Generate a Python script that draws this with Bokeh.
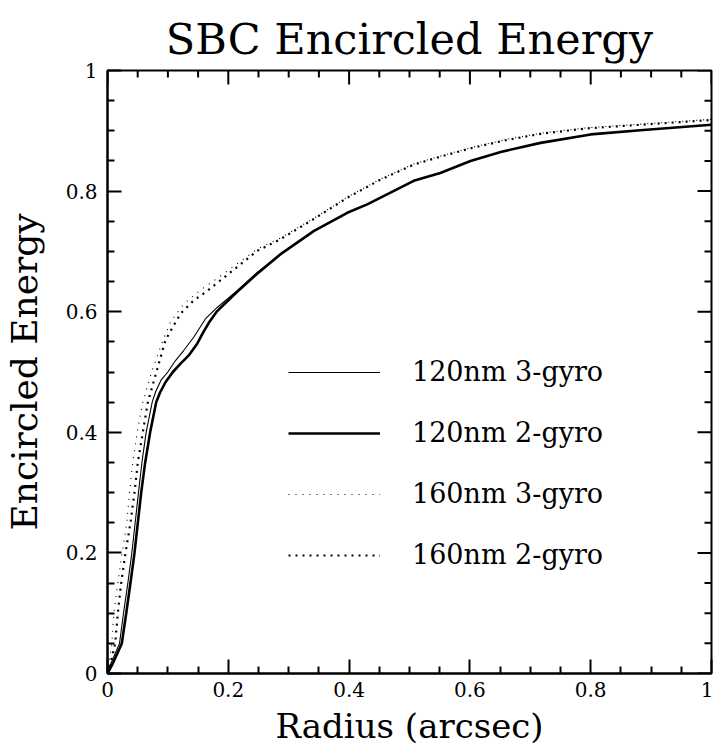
import math
from bokeh.plotting import figure
from bokeh.models import FixedTicker, LinearAxis, Legend, LegendItem, Range1d
from bokeh.embed import file_html
from bokeh.resources import INLINE

# ---- data ----
x_120_3g = [0, 0.005, 0.0199, 0.0265, 0.0337, 0.0403, 0.0458, 0.0513, 0.057, 0.064, 0.074,
            0.080, 0.089, 0.0999, 0.1126, 0.1264, 0.143, 0.162, 0.1816, 0.2147, 0.2478, 0.286, 0.342,
            0.397, 0.43, 0.507, 0.551, 0.601, 0.651, 0.717, 0.80, 0.882, 1.0]
y_120_3g = [0, 0.015, 0.05, 0.10, 0.15, 0.20, 0.25, 0.30, 0.35, 0.40, 0.45,
            0.468, 0.487, 0.50, 0.519, 0.536, 0.558, 0.588, 0.607, 0.635, 0.665, 0.695, 0.734,
            0.764, 0.778, 0.817, 0.830, 0.850, 0.865, 0.880, 0.894, 0.901, 0.910]

x_120_2g = [0, 0.008, 0.0237, 0.031, 0.038, 0.0447, 0.0502, 0.0558, 0.0624, 0.0706, 0.0806,
            0.087, 0.096, 0.1082, 0.121, 0.135, 0.1485, 0.158, 0.168, 0.1816, 0.2147, 0.2478, 0.286, 0.342,
            0.397, 0.43, 0.507, 0.551, 0.601, 0.651, 0.717, 0.80, 0.882, 1.0]
y_120_2g = [0, 0.015, 0.05, 0.10, 0.15, 0.20, 0.25, 0.30, 0.35, 0.40, 0.45,
            0.466, 0.483, 0.50, 0.514, 0.528, 0.547, 0.565, 0.582, 0.601, 0.633, 0.663, 0.695, 0.734,
            0.764, 0.778, 0.817, 0.830, 0.850, 0.865, 0.880, 0.894, 0.901, 0.910]

x_160_3g = [0, 0.003, 0.0072, 0.0105, 0.0171, 0.0243, 0.032, 0.0364, 0.0419, 0.0491, 0.0585,
            0.073, 0.0905, 0.1043, 0.1264, 0.154, 0.184, 0.248, 0.286, 0.342, 0.397, 0.452,
            0.507, 0.551, 0.601, 0.662, 0.717, 0.794, 0.882, 1.0]
y_160_3g = [0, 0.02, 0.05, 0.10, 0.15, 0.20, 0.25, 0.30, 0.35, 0.40, 0.45,
            0.50, 0.549, 0.583, 0.613, 0.636, 0.657, 0.704, 0.722, 0.755, 0.790, 0.820,
            0.845, 0.858, 0.872, 0.886, 0.896, 0.905, 0.911, 0.919]

x_160_2g = [0, 0.006, 0.0127, 0.0171, 0.0226, 0.0298, 0.038, 0.0447, 0.0502, 0.0585, 0.0668,
            0.081, 0.096, 0.121, 0.143, 0.162, 0.2009, 0.248, 0.286, 0.342, 0.397, 0.452,
            0.507, 0.551, 0.601, 0.662, 0.717, 0.794, 0.882, 1.0]
y_160_2g = [0, 0.02, 0.05, 0.10, 0.15, 0.20, 0.25, 0.30, 0.35, 0.40, 0.45,
            0.50, 0.553, 0.597, 0.619, 0.632, 0.663, 0.701, 0.720, 0.754, 0.789, 0.819,
            0.844, 0.857, 0.871, 0.885, 0.895, 0.904, 0.910, 0.918]

series_labels = ["120nm 3-gyro", "120nm 2-gyro", "160nm 3-gyro", "160nm 2-gyro"]
tick_values = [0, 0.2, 0.4, 0.6, 0.8, 1.0]
tick_labels = ["0", "0.2", "0.4", "0.6", "0.8", "1"]
minor_values = [0.05, 0.1, 0.15, 0.25, 0.3, 0.35, 0.45, 0.5, 0.55, 0.65, 0.7, 0.75, 0.85, 0.9, 0.95]

title_text = "SBC Encircled Energy"
x_label = "Radius (arcsec)"
y_label = "Encircled Energy"

FONT = "DejaVu Serif"
MAJOR_LEN = 14
MINOR_LEN = 7

p = figure(width=713, height=751, x_range=Range1d(0, 1), y_range=Range1d(0, 1),
           output_backend="svg", toolbar_location=None,
           min_border_left=107, min_border_right=2, min_border_top=70, min_border_bottom=78,
           x_axis_location=None, y_axis_location=None)
p.grid.visible = False
p.outline_line_color = "black"
p.outline_line_width = 2
p.background_fill_color = "white"
p.border_fill_color = "white"

p.title.text = title_text
p.title.align = "center"
p.title.text_font = FONT
p.title.text_font_size = "43px"
p.title.text_font_style = "normal"
p.title.text_color = "black"
p.title.offset = 6
p.title.standoff = 14

overrides = {v: l for v, l in zip(tick_values, tick_labels)}


def style_axis(ax):
    ax.ticker = FixedTicker(ticks=tick_values, minor_ticks=minor_values)
    ax.major_tick_in = MAJOR_LEN
    ax.major_tick_out = 0
    ax.minor_tick_in = MINOR_LEN
    ax.minor_tick_out = 0
    ax.axis_line_width = 2
    ax.major_tick_line_width = 2
    ax.minor_tick_line_width = 2
    ax.axis_line_color = "black"
    ax.major_tick_line_color = "black"
    ax.minor_tick_line_color = "black"
    ax.major_label_overrides = overrides
    ax.major_label_text_font = FONT
    ax.major_label_text_font_size = "20px"
    ax.major_label_text_color = "black"
    ax.axis_label_text_font = FONT
    ax.axis_label_text_font_style = "normal"
    ax.axis_label_text_color = "black"


xb = LinearAxis(axis_label=x_label)
style_axis(xb)
xb.axis_label_text_font_size = "34px"
xb.major_label_standoff = 8
xb.axis_label_standoff = 6
p.add_layout(xb, "below")

yl = LinearAxis(axis_label=y_label)
style_axis(yl)
yl.axis_label_text_font_size = "36px"
yl.major_label_standoff = 10
yl.axis_label_standoff = 18
p.add_layout(yl, "left")

# mirrored ticks on the top and right frame edges (pointing inward)
p.ray(x=tick_values, y=[1] * len(tick_values), length=MAJOR_LEN, length_units="screen",
      angle=-math.pi / 2, line_color="black", line_width=2)
p.ray(x=minor_values, y=[1] * len(minor_values), length=MINOR_LEN, length_units="screen",
      angle=-math.pi / 2, line_color="black", line_width=2)
p.ray(x=[1] * len(tick_values), y=tick_values, length=MAJOR_LEN, length_units="screen",
      angle=math.pi, line_color="black", line_width=2)
p.ray(x=[1] * len(minor_values), y=minor_values, length=MINOR_LEN, length_units="screen",
      angle=math.pi, line_color="black", line_width=2)

r1 = p.line(x_120_3g, y_120_3g, line_color="black", line_width=1.1)
r2 = p.line(x_120_2g, y_120_2g, line_color="black", line_width=2.6)
r3 = p.line(x_160_3g, y_160_3g, line_color="black", line_width=1.1, line_dash="1 6")
r4 = p.line(x_160_2g, y_160_2g, line_color="black", line_width=2.2, line_dash="2 5")

legend = Legend(items=[LegendItem(label=series_labels[0], renderers=[r1]),
                       LegendItem(label=series_labels[1], renderers=[r2]),
                       LegendItem(label=series_labels[2], renderers=[r3]),
                       LegendItem(label=series_labels[3], renderers=[r4])],
                location=(181, 103))
legend.glyph_width = 92
legend.glyph_height = 30
legend.label_height = 30
legend.spacing = 30
legend.label_standoff = 32
legend.padding = 0
legend.margin = 0
legend.border_line_color = None
legend.background_fill_alpha = 0
legend.label_text_font = FONT
legend.label_text_font_size = "27px"
legend.label_text_color = "black"
p.add_layout(legend, "center")

open("out.html", "w").write(file_html(p, INLINE))
